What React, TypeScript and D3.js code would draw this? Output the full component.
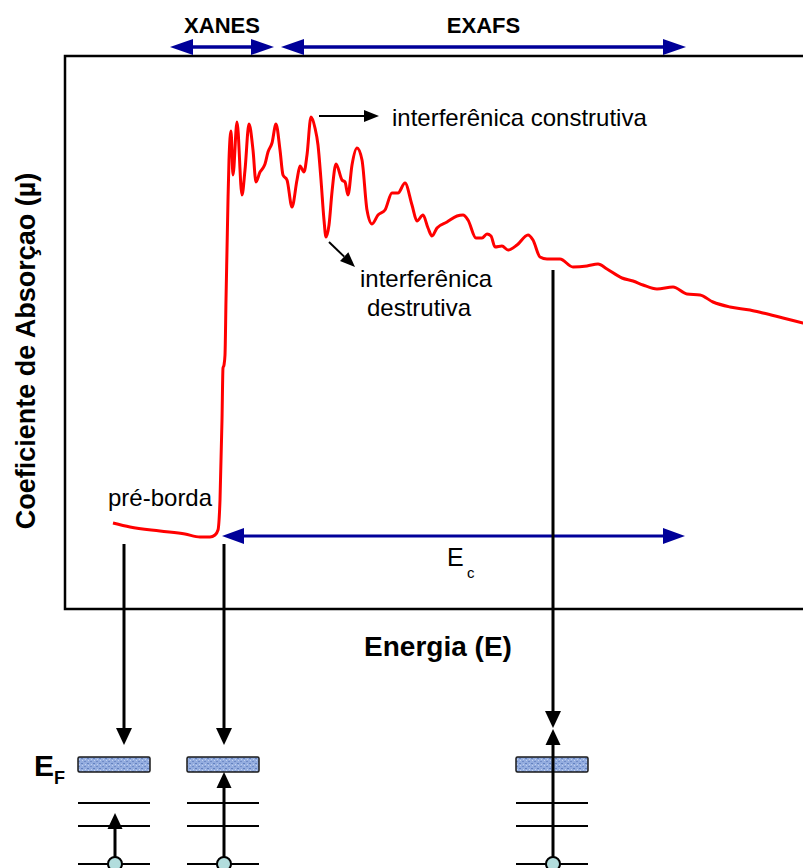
import * as d3 from "d3";

// Absorption spectrum (relative energy, absorption in a.u.)
const energy = [
  48, 65, 95, 120, 135, 145, 150, 153, 155, 157, 158, 159, 160, 161, 162, 163, 164,
  166, 168, 172, 177, 180, 184, 188, 191, 195, 198, 200, 203, 207, 211, 215, 218,
  222, 227, 232, 235, 239, 242, 246, 250, 253, 256, 259, 261, 264, 267, 271, 277,
  280, 283, 287, 292, 297, 302, 307, 313, 320, 327, 333, 340, 347, 352, 358, 363,
  367, 372, 382, 392, 398, 403, 411, 417, 422, 426, 430, 437, 443, 452, 463, 468,
  475, 482, 495, 508, 522, 533, 542, 557, 568, 578, 592, 608, 622, 635, 648, 665,
  685, 698, 718, 738, 750,
];
const mu = [
  0.86, 0.82, 0.78, 0.75, 0.72, 0.72, 0.74, 0.79, 1.09, 1.89, 2.41, 2.44, 2.54, 3.09, 3.59, 4.09, 4.49,
  4.78, 4.34, 4.87, 4.14, 4.39, 4.85, 4.59, 4.27, 4.37, 4.41, 4.45, 4.57, 4.66, 4.85, 4.59, 4.34,
  4.29, 4.02, 4.29, 4.43, 4.37, 4.54, 4.92, 4.81, 4.64, 4.29, 3.89, 3.72, 3.84, 4.17, 4.45, 4.29,
  4.27, 4.14, 4.44, 4.61, 4.49, 3.99, 3.85, 3.94, 3.99, 4.16, 4.16, 4.26, 4.04, 3.88, 3.94, 3.81,
  3.73, 3.81, 3.87, 3.93, 3.94, 3.89, 3.71, 3.71, 3.75, 3.73, 3.62, 3.63, 3.59, 3.64, 3.74, 3.69,
  3.52, 3.50, 3.50, 3.42, 3.43, 3.45, 3.40, 3.31, 3.28, 3.24, 3.20, 3.22, 3.15, 3.14, 3.07, 3.02,
  2.99, 2.96, 2.91, 2.86, 2.83,
];

// energy ranges of the regions
const regionNames = ["XANES", "EXAFS"];
const regionStart = [105, 216];
const regionEnd = [209, 621];
const ecRange = [157, 620];

// transitions: energy on the curve where each vertical arrow drops
const transitionE = [59, 159, 488];

const W = 803;
const H = 868;
const FONT = "'Liberation Sans', Arial, sans-serif";
const BLUE = "#000099";

function head(x1: number, y1: number, x2: number, y2: number, len: number, hw: number) {
  const dx = x2 - x1;
  const dy = y2 - y1;
  const L = Math.hypot(dx, dy);
  const ux = dx / L;
  const uy = dy / L;
  const bx = x2 - ux * len;
  const by = y2 - uy * len;
  const px = -uy;
  const py = ux;
  return {
    pts: `${x2},${y2} ${bx + px * hw},${by + py * hw} ${bx - px * hw},${by - py * hw}`,
    bx,
    by,
  };
}

function Arrow({
  x1, y1, x2, y2, color = "#000", width = 2, len = 15, hw = 7, both = false,
}: {
  x1: number; y1: number; x2: number; y2: number; color?: string; width?: number;
  len?: number; hw?: number; both?: boolean;
}) {
  const h2 = head(x1, y1, x2, y2, len, hw);
  const h1 = both ? head(x2, y2, x1, y1, len, hw) : null;
  return (
    <g>
      <line
        x1={h1 ? h1.bx : x1}
        y1={h1 ? h1.by : y1}
        x2={h2.bx}
        y2={h2.by}
        stroke={color}
        strokeWidth={width}
      />
      <polygon points={h2.pts} fill={color} />
      {h1 && <polygon points={h1.pts} fill={color} />}
    </g>
  );
}

export default function App() {
  const x = d3.scaleLinear().domain([0, 740]).range([65, 805]);
  const y = d3.scaleLinear().domain([0, 5.54]).range([609, 55]);

  const pts = energy.map((e, i) => [e, mu[i]] as [number, number]);
  const line = d3
    .line<[number, number]>()
    .x((d) => x(d[0]))
    .y((d) => y(d[1]))
    .curve(d3.curveMonotoneX);

  const tx = transitionE.map((e) => Math.round(x(e)));

  // energy level diagram
  const levelCx = [114, 223, 552];
  const upX = [115, tx[1], tx[2]];
  const upTip = [813, 772, 729];
  const downTop = [544, 544, 270];
  const downTip = [745, 745, 728];
  const levelY = [803, 826, 864];

  return (
    <svg
      width={W}
      height={H}
      style={{ position: "absolute", left: 0, top: 0, background: "#fff" }}
      fontFamily={FONT}
    >
      <defs>
        <pattern id="tex" width="6" height="5" patternUnits="userSpaceOnUse">
          <rect width="6" height="5" fill="#94addf" />
          <rect x="0" y="1" width="2" height="1" fill="#6f8bc6" />
          <rect x="3" y="3" width="2" height="1" fill="#6482c0" />
          <rect x="4" y="0" width="1" height="1" fill="#c3d2ef" />
          <rect x="1" y="4" width="1" height="1" fill="#c3d2ef" />
        </pattern>
      </defs>

      {/* frame */}
      <path d="M 830 56 H 65 V 609 H 830" fill="none" stroke="#000" strokeWidth={2.5} />

      {/* region labels and arrows */}
      {regionNames.map((n, i) => (
        <g key={n}>
          <text
            x={(x(regionStart[i]) + x(regionEnd[i])) / 2}
            y={33}
            textAnchor="middle"
            fontWeight="bold"
            fontSize={22}
          >
            {n}
          </text>
          <Arrow
            x1={x(regionStart[i])}
            y1={47}
            x2={x(regionEnd[i])}
            y2={47}
            color={BLUE}
            width={3.5}
            len={23}
            hw={8}
            both
          />
        </g>
      ))}

      {/* axis labels */}
      <text
        transform="translate(35,351) rotate(-90)"
        textAnchor="middle"
        fontWeight="bold"
        fontSize={27}
      >
        Coeficiente de Absorçao (µ)
      </text>
      <text x={438} y={656} textAnchor="middle" fontWeight="bold" fontSize={28}>
        Energia (E)
      </text>

      {/* Ec arrow */}
      <Arrow x1={x(ecRange[0])} y1={536} x2={x(ecRange[1])} y2={536} color={BLUE} width={3} len={22} hw={8} both />
      <text x={447} y={566} fontSize={25}>E</text>
      <text x={467} y={578} fontSize={15}>c</text>

      {/* spectrum */}
      <path d={line(pts) ?? ""} fill="none" stroke="#ff0000" strokeWidth={3} strokeLinejoin="round" />

      {/* annotations */}
      <Arrow x1={319} y1={116} x2={379} y2={116} width={2} len={15} hw={6} />
      <text x={392} y={126} fontSize={24}>interferênica construtiva</text>
      <Arrow x1={329} y1={242} x2={355} y2={267} width={2} len={15} hw={6} />
      <text x={360} y={287} fontSize={24}>interferênica</text>
      <text x={367} y={316} fontSize={24}>destrutiva</text>
      <text x={108} y={506} fontSize={24}>pré-borda</text>

      {/* vertical transitions from the curve */}
      {tx.map((xv, i) => (
        <Arrow key={"d" + i} x1={xv} y1={downTop[i]} x2={xv} y2={downTip[i]} width={3} len={17} hw={8} />
      ))}

      {/* energy levels */}
      <text x={34} y={776} fontWeight="bold" fontSize={30}>E</text>
      <text x={54} y={784} fontWeight="bold" fontSize={18}>F</text>
      {levelCx.map((cx, i) => (
        <g key={"l" + i}>
          <rect x={cx - 36} y={757} width={72} height={15} fill="url(#tex)" stroke="#1a1a1a" strokeWidth={1.5} rx={1.5} />
          {levelY.map((ly) => (
            <line key={ly} x1={cx - 36} x2={cx + 36} y1={ly} y2={ly} stroke="#000" strokeWidth={2} />
          ))}
          <Arrow x1={upX[i]} y1={864} x2={upX[i]} y2={upTip[i]} width={3} len={16} hw={7.5} />
          <circle cx={upX[i]} cy={864} r={7} fill="#b2dddd" stroke="#000" strokeWidth={2} />
        </g>
      ))}
    </svg>
  );
}
